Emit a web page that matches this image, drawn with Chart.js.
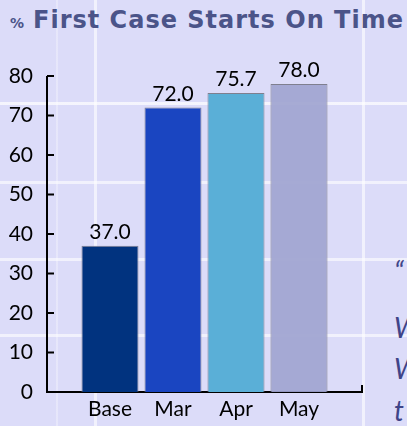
<!DOCTYPE html>
<html>
<head>
<meta charset="utf-8">
<script src="https://cdn.jsdelivr.net/npm/chart.js@4.4.0/dist/chart.umd.min.js"></script>
<style>
  html, body { margin: 0; padding: 0; }
  body {
    width: 407px; height: 426px; overflow: hidden; position: relative;
    background-color: #dcdcf9;
    background-image:
      linear-gradient(to bottom, transparent 102px, rgba(255,255,255,0.7) 102px, rgba(255,255,255,0.7) 105px, transparent 105px),
      linear-gradient(to bottom, transparent 181px, rgba(255,255,255,0.6) 181px, rgba(255,255,255,0.6) 184px, transparent 184px),
      linear-gradient(to bottom, transparent 258px, rgba(255,255,255,0.6) 258px, rgba(255,255,255,0.6) 261px, transparent 261px),
      linear-gradient(to bottom, transparent 334px, rgba(255,255,255,0.6) 334px, rgba(255,255,255,0.6) 337px, transparent 337px),
      linear-gradient(to right, transparent 94px, rgba(255,255,255,0.6) 94px, rgba(255,255,255,0.6) 97px, transparent 97px),
      linear-gradient(to right, transparent 362px, rgba(255,255,255,0.6) 362px, rgba(255,255,255,0.6) 365px, transparent 365px),
      linear-gradient(to right, transparent 56px, rgba(255,255,255,0.3) 56px, rgba(255,255,255,0.3) 58px, transparent 58px);
  }
  #title {
    position: absolute; left: 10px; top: 6px; white-space: nowrap;
    font-family: "DejaVu Sans", sans-serif; font-weight: bold; font-size: 24px;
    color: #4b5489; letter-spacing: 1px;
  }
  #title .pct { font-size: 14px; margin-right: 9px; letter-spacing: 0; }
  .quote {
    position: absolute; left: 394px; white-space: nowrap;
    font-family: "Lato", sans-serif; font-style: italic; font-size: 28px;
    color: #3f4488;
  }
  #wrap { position: absolute; left: 0; top: 0; width: 407px; height: 426px; }
</style>
</head>
<body>
<div id="title"><span class="pct">%</span>First Case Starts On Time</div>
<div class="quote" style="top:254px">“</div>
<div class="quote" style="top:310px">W</div>
<div class="quote" style="top:351px">W</div>
<div class="quote" style="top:393px">t</div>
<div id="wrap"><canvas id="chart"></canvas></div>
<script>
const categories = ['Base', 'Mar', 'Apr', 'May'];
const onTimePct = [37.0, 72.0, 75.7, 78.0];
const barColors = ['#01337f', '#1a45c1', '#5aafd7', 'rgba(160,164,208,0.92)'];
const yTicks = [0, 10, 20, 30, 40, 50, 60, 70, 80];

// one empty slot on each side of the bars
const labels = [''].concat(categories, ['']);
const values = [null].concat(onTimePct, [null]);
const colors = ['#000'].concat(barColors, ['#000']);

const axisPlugin = {
  id: 'axisLines',
  beforeDatasetsDraw(chart) {
    const { ctx, chartArea, scales } = chart;
    ctx.save();
    ctx.strokeStyle = '#000';
    ctx.lineWidth = 2;
    ctx.beginPath();
    // y axis
    ctx.moveTo(chartArea.left, scales.y.getPixelForValue(80));
    ctx.lineTo(chartArea.left, chartArea.bottom);
    // x axis
    ctx.lineTo(chartArea.right, chartArea.bottom);
    ctx.lineTo(chartArea.right, chartArea.bottom - 7);
    yTicks.forEach(v => {
      const py = scales.y.getPixelForValue(v);
      ctx.moveTo(chartArea.left, py);
      ctx.lineTo(chartArea.left + 7, py);
    });
    ctx.stroke();
    ctx.restore();
  },
  afterDatasetsDraw(chart) {
    const { ctx } = chart;
    const meta = chart.getDatasetMeta(0);
    ctx.save();
    ctx.fillStyle = '#000';
    ctx.font = '21px Lato, sans-serif';
    ctx.textAlign = 'center';
    ctx.textBaseline = 'alphabetic';
    meta.data.forEach((bar, i) => {
      if (values[i] == null) return;
      ctx.fillText(values[i].toFixed(1), bar.x, bar.y - 7);
    });
    ctx.restore();
  }
};

new Chart(document.getElementById('chart'), {
  type: 'bar',
  data: {
    labels: labels,
    datasets: [{
      data: values,
      backgroundColor: colors,
      borderColor: '#7f7f8f',
      borderWidth: 1,
      barPercentage: 0.905,
      categoryPercentage: 1
    }]
  },
  options: {
    responsive: true,
    maintainAspectRatio: false,
    animation: false,
    layout: { padding: { top: 76, right: 45, left: 0, bottom: 0 } },
    plugins: { legend: { display: false }, tooltip: { enabled: false } },
    scales: {
      x: {
        offset: false,
        grid: { display: false, drawTicks: false },
        border: { display: false },
        ticks: { color: '#000', font: { family: 'Lato', size: 21 }, padding: 5, maxRotation: 0, autoSkip: false },
        afterFit(scale) { scale.height = 34; }
      },
      y: {
        min: 0, max: 80,
        grid: { display: false, drawTicks: false },
        border: { display: false },
        ticks: { stepSize: 10, color: '#000', font: { family: 'Lato', size: 21 }, padding: 14 },
        afterFit(scale) { scale.width = 47; }
      }
    }
  },
  plugins: [axisPlugin]
});
</script>
</body>
</html>
